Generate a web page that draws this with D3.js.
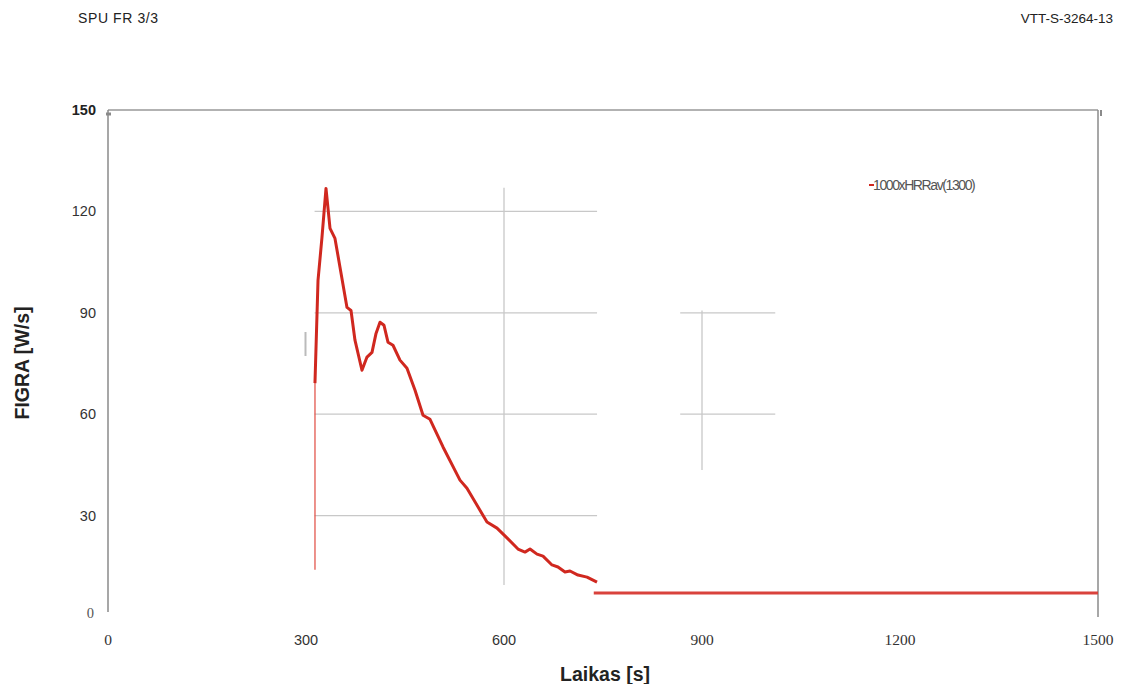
<!DOCTYPE html>
<html><head><meta charset="utf-8">
<script src="https://cdn.jsdelivr.net/npm/d3@7"></script>
<style>body{margin:0;background:#fff}svg{display:block}</style>
</head><body>
<script>
const xTicks = [0, 300, 600, 900, 1200, 1500];
const yTicks = [0, 30, 60, 90, 120, 150];
const timeS = [313.6,313.6,318.2,324.2,330.3,336.4,343.9,351.5,362.1,368.2,374.2,384.8,392.4,400,406.1,412.1,418.2,424.2,431.8,442.4,453,465.2,477.3,487.9,507.6,533.3,543.9,563.6,574.2,589.4,604.5,621.2,631.8,639.4,650,659.1,672.7,681.8,692.4,700,712.1,725.8,740.9];
const figra = [14,69.2,99.6,112.3,126.8,115,112,103.5,91.6,90.7,81.9,73,76.9,78.3,83.9,87.2,86.3,81.3,80.4,76,73.6,67.1,59.7,58.5,50.3,40.5,38.1,31.6,28.1,26.3,23.4,20.1,19.2,20.1,18.6,18,15.4,14.8,13.3,13.6,12.4,11.8,10.3];
const flatTime = [736, 1500];
const flatValue = [7.1, 7.1];
const legendLabel = "-1000xHRRav(1300)";

const W = 1126, H = 684;
const svg = d3.select("body").append("svg").attr("width", W).attr("height", H);
const x = d3.scaleLinear().domain([0, 1500]).range([108, 1098]);
const y = d3.scaleLinear().domain([0, 150]).range([617, 110]);

// header
svg.append("text").attr("x", 78).attr("y", 23).attr("font-family", "Liberation Sans, Arial").attr("font-size", 14).attr("letter-spacing", 0.6).attr("fill", "#222").text("SPU FR 3/3");
svg.append("text").attr("x", 1113).attr("y", 23).attr("text-anchor", "end").attr("font-family", "Liberation Sans, Arial").attr("font-size", 13.5).attr("fill", "#222").text("VTT-S-3264-13");

// partial gridlines
const grid = svg.append("g").attr("stroke", "#c8c8c8").attr("stroke-width", 1.3);
[30, 60, 90, 120].forEach(v => grid.append("line").attr("x1", x(313)).attr("x2", x(741)).attr("y1", y(v)).attr("y2", y(v)));
grid.append("line").attr("x1", x(600)).attr("x2", x(600)).attr("y1", y(127)).attr("y2", y(9.5));
grid.append("line").attr("x1", x(900)).attr("x2", x(900)).attr("y1", y(90.7)).attr("y2", y(43.5));
[60, 90].forEach(v => grid.append("line").attr("x1", x(867)).attr("x2", x(1011)).attr("y1", y(v)).attr("y2", y(v)));
// scan artifact
svg.append("line").attr("x1", 305.5).attr("x2", 305.5).attr("y1", 332).attr("y2", 356).attr("stroke", "#bbb").attr("stroke-width", 2);

// frame
const frame = svg.append("g").attr("stroke", "#8a8a8a").attr("stroke-width", 1.5).attr("fill", "none");
frame.append("line").attr("x1", x(0)).attr("x2", x(1500)).attr("y1", y(150)).attr("y2", y(150)).attr("stroke", "#999");
frame.append("line").attr("x1", x(0)).attr("x2", x(0)).attr("y1", y(150)).attr("y2", y(1.5));
frame.append("line").attr("x1", x(1500)).attr("x2", x(1500)).attr("y1", y(150)).attr("y2", y(0));
frame.append("line").attr("x1", x(0) - 2).attr("x2", x(0) + 3).attr("y1", y(150) + 4).attr("y2", y(150) + 4).attr("stroke-width", 3);
frame.append("line").attr("x1", x(1500) + 3).attr("x2", x(1500) + 3).attr("y1", y(150)).attr("y2", y(150) + 6).attr("stroke-width", 2);

// y ticks
yTicks.forEach(v => {
  const t = svg.append("text").attr("x", 96).attr("y", y(v) + 5).attr("text-anchor", "end")
    .attr("font-family", v === 0 ? "Liberation Serif" : "Liberation Sans, Arial")
    .attr("font-size", 14.5).attr("fill", v === 0 ? "#555" : "#333").text(v);
  if (v === 150) t.attr("font-weight", "bold").attr("fill", "#222");
  if (v === 0) t.attr("x", 94).attr("y", y(v) + 1);
});
// x ticks
xTicks.forEach(v => {
  const serif = !(v === 300 || v === 600);
  svg.append("text").attr("x", x(v)).attr("y", 645).attr("text-anchor", "middle")
    .attr("font-family", serif ? "Liberation Serif" : "Liberation Sans, Arial")
    .attr("font-size", serif ? 15.5 : 14.5).attr("fill", "#333").text(v);
});

// axis titles
svg.append("text").attr("x", 605).attr("y", 681).attr("text-anchor", "middle").attr("font-family", "Liberation Sans, Arial").attr("font-weight", "bold").attr("font-size", 19.5).attr("fill", "#222").text("Laikas [s]");
svg.append("text").attr("transform", "translate(29,363) rotate(-90)").attr("text-anchor", "middle").attr("font-family", "Liberation Sans, Arial").attr("font-weight", "bold").attr("font-size", 19.5).attr("fill", "#222").text("FIGRA [W/s]");

// curve
const pts = timeS.map((t, i) => [t, figra[i]]);
const line = d3.line().x(d => x(d[0])).y(d => y(d[1]));
svg.append("path").attr("d", line(pts.slice(0, 2))).attr("stroke", "#e04a40").attr("stroke-width", 1.5).attr("fill", "none").attr("opacity", 0.8);
svg.append("path").attr("d", line(pts.slice(1))).attr("stroke", "#d0281f").attr("stroke-width", 3).attr("fill", "none").attr("stroke-linejoin", "round");
svg.append("path").attr("d", line(flatTime.map((t, i) => [t, flatValue[i]]))).attr("stroke", "#d9423c").attr("stroke-width", 3).attr("fill", "none");

// legend
svg.append("line").attr("x1", 869).attr("x2", 874).attr("y1", 185).attr("y2", 185).attr("stroke", "#d0281f").attr("stroke-width", 2);
svg.append("text").attr("x", 873).attr("y", 190).attr("font-family", "Liberation Sans, Arial").attr("font-size", 14).attr("letter-spacing", -1.4).attr("fill", "#555").text(legendLabel.slice(1));
</script>
</body></html>
